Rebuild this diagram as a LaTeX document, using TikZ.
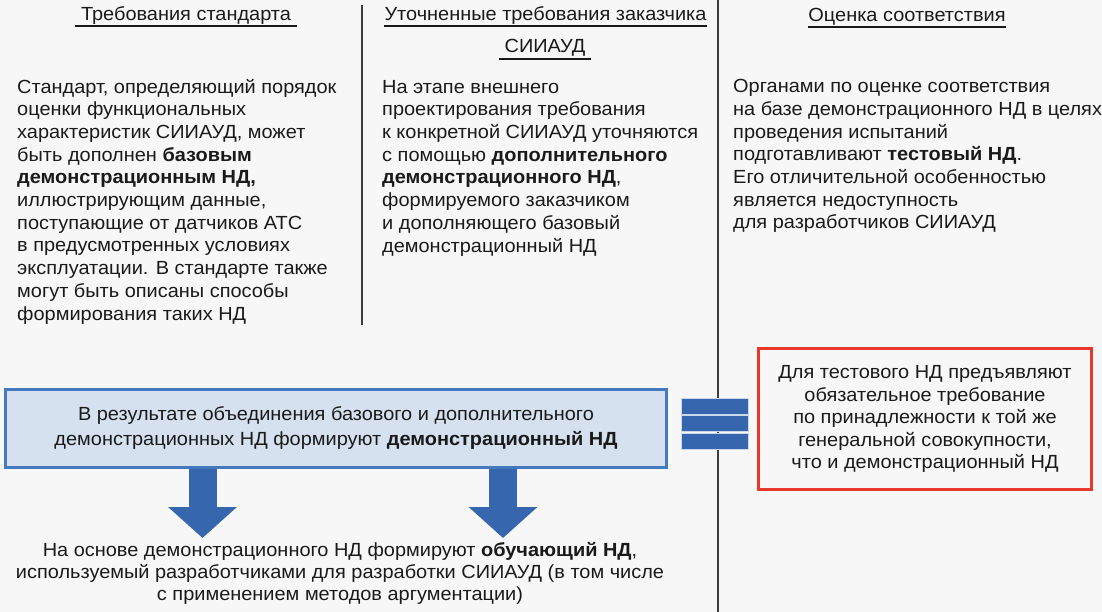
\documentclass[tikz,border=0pt]{standalone}
\usepackage{fontspec}
\setmainfont{Liberation Sans}[FakeStretch=1.05]
\usetikzlibrary{arrows.meta}
\definecolor{bg}{HTML}{F7F7F7}
\definecolor{txt}{HTML}{1A1A1A}
\definecolor{vline}{HTML}{3C3C3C}
\definecolor{bblue}{HTML}{3566AE}
\definecolor{bfill}{HTML}{D6E1F0}
\definecolor{bborder}{HTML}{4579BE}
\definecolor{rred}{HTML}{E8372C}
\begin{document}
\begin{tikzpicture}[x=1pt,y=-1pt,
  every node/.style={text=txt, inner sep=0pt, font=\fontsize{19}{22.7}\selectfont},
  coltext/.style={anchor=base west, align=left},
  header/.style={anchor=base, inner xsep=4pt},
  uline/.style={draw=txt, line width=1.2pt},
  sep/.style={draw=vline, line width=2.5pt},
  bigarrow/.style={draw=bblue, line width=28pt, -{Triangle[width=67pt,length=31pt]}},
  eqbar/.style={fill=bblue, draw=white!75!bblue, line width=0.8pt, minimum width=67pt, minimum height=16pt},
  bluebox/.style={fill=bfill, draw=bborder, line width=3pt, align=center, minimum width=661pt, minimum height=78pt, font=\fontsize{19}{25}\selectfont},
  redbox/.style={fill=bg, draw=rred, line width=3pt, align=center, minimum width=333pt, minimum height=141pt, font=\fontsize{19}{22.5}\selectfont}
]
\fill[bg] (0,0) rectangle (1102,612);
\useasboundingbox (0,0) rectangle (1102,612);

% separators
\draw[sep] (362,5) -- (362,325);
\draw[sep] (718,0) -- (718,612);

% headers
\node[header, inner xsep=6pt] (h1) at (186,21) {Требования стандарта};
\node[header, inner xsep=0pt] (h2a) at (545.5,21) {Уточненные требования заказчика};
\node[header, inner xsep=5pt] (h2b) at (545,53) {СИИАУД};
\node[header, inner xsep=0pt] (h3) at (907,22) {Оценка соответствия};
\draw[uline] ([yshift=-5pt]h1.base west) -- ([yshift=-5pt]h1.base east);
\draw[uline] ([yshift=-5pt]h2a.base west) -- ([yshift=-5pt]h2a.base east);
\draw[uline] ([yshift=-6pt]h2b.base west) -- ([yshift=-6pt]h2b.base east);
\draw[uline] ([yshift=-5pt]h3.base west) -- ([yshift=-5pt]h3.base east);

% column texts (anchor = baseline of last line)
\node[coltext] (c1) at (17,320) {Стандарт, определяющий порядок\\
оценки функциональных\\
характеристик СИИАУД, может\\
быть дополнен \textbf{базовым}\\
\textbf{демонстрационным НД,}\\
иллюстрирующим данные,\\
поступающие от датчиков АТС\\
в предусмотренных условиях\\
эксплуатации. В стандарте также\\
могут быть описаны способы\\
формирования таких НД};
\node[coltext] (c2) at (382,252) {На этапе внешнего\\
проектирования требования\\
к конкретной СИИАУД уточняются\\
с помощью \textbf{дополнительного}\\
\textbf{демонстрационного НД},\\
формируемого заказчиком\\
и дополняющего базовый\\
демонстрационный НД};
\node[coltext] (c3) at (733,229) {Органами по оценке соответствия\\
на базе демонстрационного НД в целях\\
проведения испытаний\\
подготавливают \textbf{тестовый НД}.\\
Его отличительной особенностью\\
является недоступность\\
для разработчиков СИИАУД};

% blue box
\node[bluebox] (box) at (336,428.5) {В результате объединения базового и дополнительного\\
демонстрационных НД формируют \textbf{демонстрационный НД}};

% equals sign
\node[eqbar] (eq1) at (714.5,406) {};
\node[eqbar] (eq2) at (714.5,423.5) {};
\node[eqbar] (eq3) at (714.5,441) {};

% red box
\node[redbox] (red) at (925,419) {Для тестового НД предъявляют\\
обязательное требование\\
по принадлежности к той же\\
генеральной совокупности,\\
что и демонстрационный НД};

% bottom text
\node[anchor=base, align=center, font=\fontsize{19}{22}\selectfont] (bottom) at (340,600) {На основе демонстрационного НД формируют \textbf{обучающий НД},\\
используемый разработчиками для разработки СИИАУД (в том числе\\
с применением методов аргументации)};

% arrows
\coordinate (tip1) at (202.5,538);
\coordinate (tip2) at (503,538);
\draw[bigarrow] (box.south -| tip1) -- (tip1);
\draw[bigarrow] (box.south -| tip2) -- (tip2);
\end{tikzpicture}
\end{document}
